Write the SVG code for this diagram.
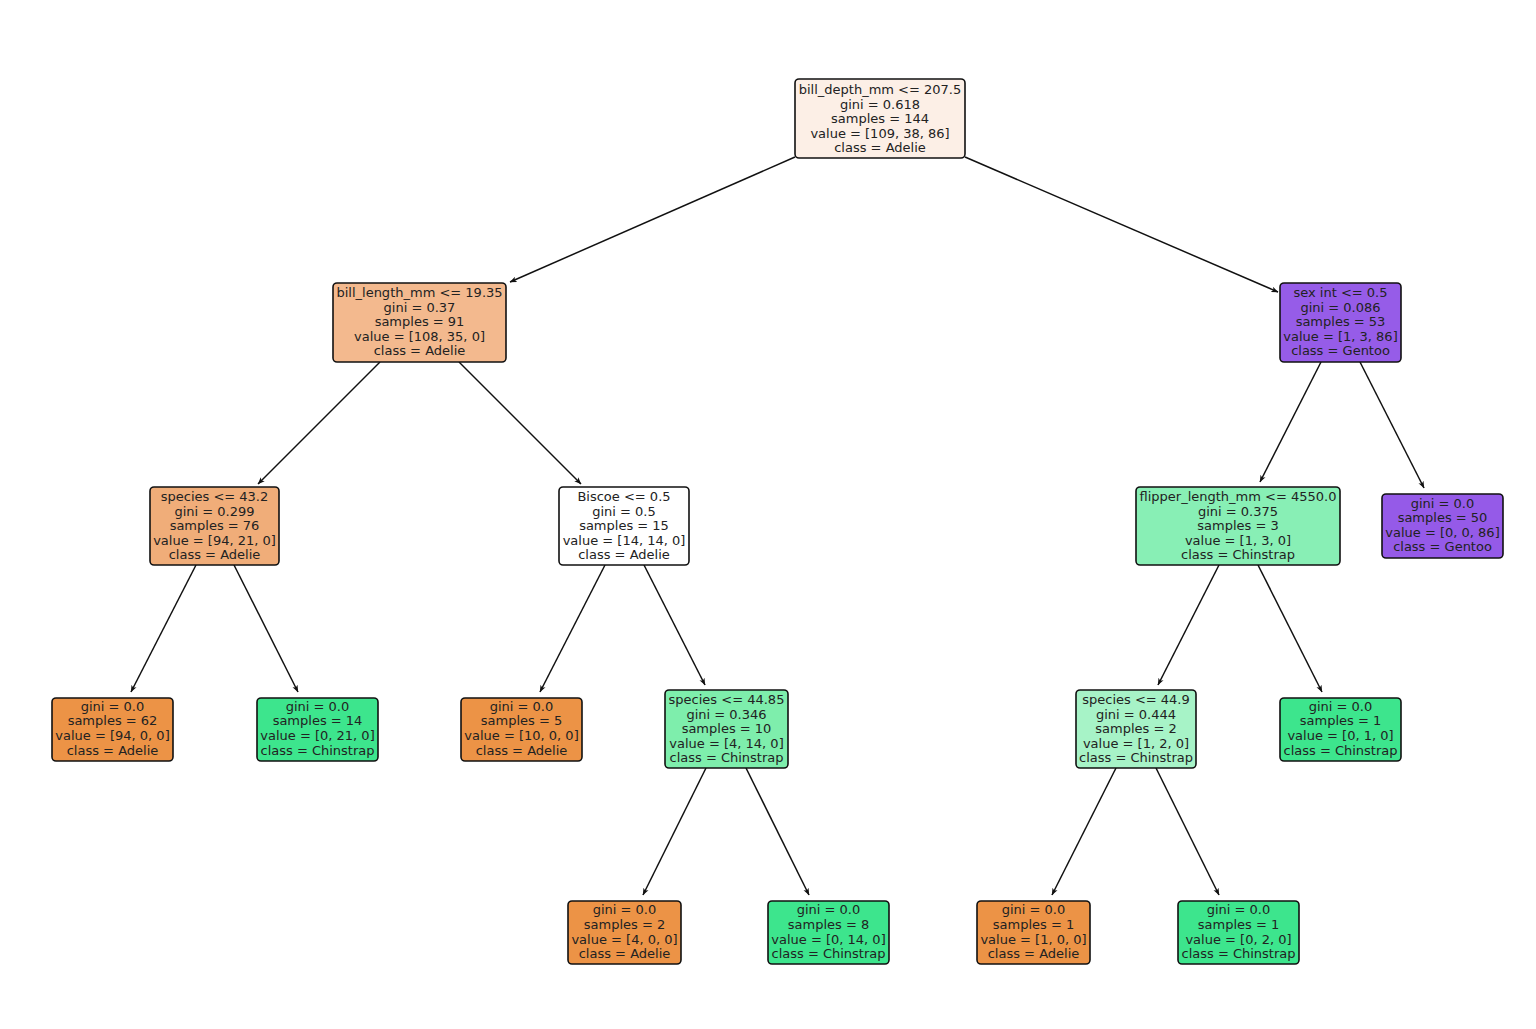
<svg xmlns="http://www.w3.org/2000/svg" width="1536" height="1029" viewBox="0 0 1536 1029">
<style>
.box{stroke:#111;stroke-width:1.6}
text{font-family:"DejaVu Sans",sans-serif;font-size:13px;fill:#222;text-anchor:middle;dominant-baseline:central}
.edge{stroke:#111;stroke-width:1.5;fill:none;marker-end:url(#ah)}
</style>
<defs>
<marker id="ah" viewBox="0 0 10 8" refX="9.5" refY="4" markerWidth="7" markerHeight="6" orient="auto" markerUnits="userSpaceOnUse">
<path d="M0,0 L10,4 L0,8 L2.5,4 z" fill="#111"/>
</marker>
</defs>
<rect width="1536" height="1029" fill="#fff"/>
<g id="connectors">
<line class="edge" x1="795" y1="157" x2="510" y2="282"/>
<line class="edge" x1="965" y1="157" x2="1278" y2="292"/>
<line class="edge" x1="380" y1="362" x2="258" y2="484"/>
<line class="edge" x1="459" y1="362" x2="581" y2="484"/>
<line class="edge" x1="196" y1="565" x2="131" y2="692"/>
<line class="edge" x1="234" y1="565" x2="298" y2="692"/>
<line class="edge" x1="605" y1="565" x2="540" y2="692"/>
<line class="edge" x1="644" y1="565" x2="705" y2="685"/>
<line class="edge" x1="1321" y1="362" x2="1260" y2="482"/>
<line class="edge" x1="1360" y1="362" x2="1424" y2="488"/>
<line class="edge" x1="1219" y1="565" x2="1158" y2="685"/>
<line class="edge" x1="1258" y1="565" x2="1322" y2="692"/>
<line class="edge" x1="706" y1="768" x2="643" y2="895"/>
<line class="edge" x1="746" y1="768" x2="809" y2="895"/>
<line class="edge" x1="1116" y1="768" x2="1052" y2="895"/>
<line class="edge" x1="1156" y1="768" x2="1219" y2="895"/>
</g>
<g id="n0"><rect class="box" x="795" y="79" width="170" height="79" rx="4" fill="#fcefe6"/>
<text x="880" y="89">bill_depth_mm &lt;= 207.5</text><text x="880" y="104">gini = 0.618</text><text x="880" y="118">samples = 144</text><text x="880" y="133">value = [109, 38, 86]</text><text x="880" y="147">class = Adelie</text></g>
<g id="n1"><rect class="box" x="333" y="283" width="173" height="79" rx="4" fill="#f3b98e"/>
<text x="419.5" y="292">bill_length_mm &lt;= 19.35</text><text x="419.5" y="307">gini = 0.37</text><text x="419.5" y="321">samples = 91</text><text x="419.5" y="336">value = [108, 35, 0]</text><text x="419.5" y="350">class = Adelie</text></g>
<g id="n2"><rect class="box" x="1280" y="283" width="121" height="79" rx="4" fill="#965ce8"/>
<text x="1340.5" y="292">sex int &lt;= 0.5</text><text x="1340.5" y="307">gini = 0.086</text><text x="1340.5" y="321">samples = 53</text><text x="1340.5" y="336">value = [1, 3, 86]</text><text x="1340.5" y="350">class = Gentoo</text></g>
<g id="n3"><rect class="box" x="150" y="487" width="129" height="78" rx="4" fill="#f0ad79"/>
<text x="214.5" y="496">species &lt;= 43.2</text><text x="214.5" y="511">gini = 0.299</text><text x="214.5" y="525">samples = 76</text><text x="214.5" y="540">value = [94, 21, 0]</text><text x="214.5" y="554">class = Adelie</text></g>
<g id="n4"><rect class="box" x="559" y="487" width="130" height="78" rx="4" fill="#ffffff"/>
<text x="624" y="496">Biscoe &lt;= 0.5</text><text x="624" y="511">gini = 0.5</text><text x="624" y="525">samples = 15</text><text x="624" y="540">value = [14, 14, 0]</text><text x="624" y="554">class = Adelie</text></g>
<g id="n5"><rect class="box" x="1136" y="487" width="204" height="78" rx="4" fill="#88efb5"/>
<text x="1238" y="496">flipper_length_mm &lt;= 4550.0</text><text x="1238" y="511">gini = 0.375</text><text x="1238" y="525">samples = 3</text><text x="1238" y="540">value = [1, 3, 0]</text><text x="1238" y="554">class = Chinstrap</text></g>
<g id="n6"><rect class="box" x="1382" y="494" width="121" height="64" rx="4" fill="#955ae8"/>
<text x="1442.5" y="503">gini = 0.0</text><text x="1442.5" y="517">samples = 50</text><text x="1442.5" y="532">value = [0, 0, 86]</text><text x="1442.5" y="546">class = Gentoo</text></g>
<g id="n7"><rect class="box" x="52" y="698" width="121" height="63" rx="4" fill="#ec9346"/>
<text x="112.5" y="706">gini = 0.0</text><text x="112.5" y="720">samples = 62</text><text x="112.5" y="735">value = [94, 0, 0]</text><text x="112.5" y="750">class = Adelie</text></g>
<g id="n8"><rect class="box" x="257" y="698" width="121" height="63" rx="4" fill="#3de58d"/>
<text x="317.5" y="706">gini = 0.0</text><text x="317.5" y="720">samples = 14</text><text x="317.5" y="735">value = [0, 21, 0]</text><text x="317.5" y="750">class = Chinstrap</text></g>
<g id="n9"><rect class="box" x="461" y="698" width="121" height="63" rx="4" fill="#ec9346"/>
<text x="521.5" y="706">gini = 0.0</text><text x="521.5" y="720">samples = 5</text><text x="521.5" y="735">value = [10, 0, 0]</text><text x="521.5" y="750">class = Adelie</text></g>
<g id="n10"><rect class="box" x="665" y="690" width="123" height="78" rx="4" fill="#7eeeac"/>
<text x="726.5" y="699">species &lt;= 44.85</text><text x="726.5" y="714">gini = 0.346</text><text x="726.5" y="728">samples = 10</text><text x="726.5" y="743">value = [4, 14, 0]</text><text x="726.5" y="757">class = Chinstrap</text></g>
<g id="n11"><rect class="box" x="1076" y="690" width="120" height="78" rx="4" fill="#a7f3c7"/>
<text x="1136" y="699">species &lt;= 44.9</text><text x="1136" y="714">gini = 0.444</text><text x="1136" y="728">samples = 2</text><text x="1136" y="743">value = [1, 2, 0]</text><text x="1136" y="757">class = Chinstrap</text></g>
<g id="n12"><rect class="box" x="1280" y="698" width="121" height="63" rx="4" fill="#3de58d"/>
<text x="1340.5" y="706">gini = 0.0</text><text x="1340.5" y="720">samples = 1</text><text x="1340.5" y="735">value = [0, 1, 0]</text><text x="1340.5" y="750">class = Chinstrap</text></g>
<g id="n13"><rect class="box" x="568" y="901" width="113" height="63" rx="4" fill="#ec9346"/>
<text x="624.5" y="909">gini = 0.0</text><text x="624.5" y="924">samples = 2</text><text x="624.5" y="939">value = [4, 0, 0]</text><text x="624.5" y="953">class = Adelie</text></g>
<g id="n14"><rect class="box" x="768" y="901" width="121" height="63" rx="4" fill="#3de58d"/>
<text x="828.5" y="909">gini = 0.0</text><text x="828.5" y="924">samples = 8</text><text x="828.5" y="939">value = [0, 14, 0]</text><text x="828.5" y="953">class = Chinstrap</text></g>
<g id="n15"><rect class="box" x="977" y="901" width="113" height="63" rx="4" fill="#ec9346"/>
<text x="1033.5" y="909">gini = 0.0</text><text x="1033.5" y="924">samples = 1</text><text x="1033.5" y="939">value = [1, 0, 0]</text><text x="1033.5" y="953">class = Adelie</text></g>
<g id="n16"><rect class="box" x="1178" y="901" width="121" height="63" rx="4" fill="#3de58d"/>
<text x="1238.5" y="909">gini = 0.0</text><text x="1238.5" y="924">samples = 1</text><text x="1238.5" y="939">value = [0, 2, 0]</text><text x="1238.5" y="953">class = Chinstrap</text></g>
</svg>
